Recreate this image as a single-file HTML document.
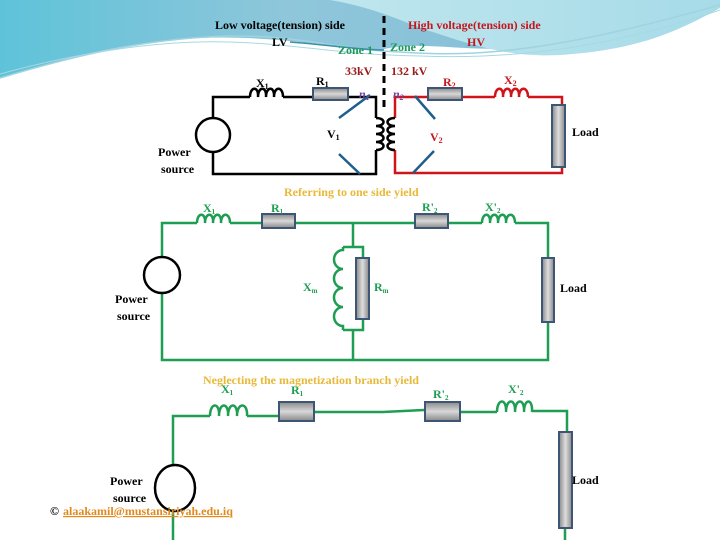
<!DOCTYPE html>
<html><head><meta charset="utf-8"><style>
html,body{margin:0;padding:0;background:#fff;}
svg{display:block;}
text{font-family:"Liberation Serif",serif;font-weight:bold;font-size:12px;}
</style></head><body>
<svg width="720" height="540" viewBox="0 0 720 540" xmlns="http://www.w3.org/2000/svg">
<defs>
<linearGradient id="bg1" x1="0" y1="0" x2="1" y2="0">
<stop offset="0" stop-color="#5ec3d9"/><stop offset="0.4" stop-color="#8fc6da"/><stop offset="1" stop-color="#7fbcd6"/></linearGradient>
<linearGradient id="bg2" x1="0" y1="0" x2="1" y2="0">
<stop offset="0" stop-color="#bfe6ee"/><stop offset="1" stop-color="#a6dbe8"/></linearGradient>
<linearGradient id="rh" x1="0" y1="0" x2="0" y2="1">
<stop offset="0" stop-color="#888"/><stop offset="0.5" stop-color="#d8d8d8"/><stop offset="1" stop-color="#888"/></linearGradient>
<linearGradient id="rv" x1="0" y1="0" x2="1" y2="0">
<stop offset="0" stop-color="#888"/><stop offset="0.5" stop-color="#ddd"/><stop offset="1" stop-color="#888"/></linearGradient>
</defs>
<path d="M0 0 H720 V0 C660 20 600 45 520 48 C460 52 420 40 380 50 C320 45 260 35 200 38 C120 42 60 60 0 78 Z" fill="url(#bg1)"/>
<path d="M330 0 H720 V8 C680 30 640 50 560 55 C500 58 460 40 420 28 C390 15 360 5 330 0 Z" fill="url(#bg2)"/>
<path d="M0 78 C60 60 140 38 230 36 C300 35 340 50 400 52 C480 58 560 50 720 5" fill="none" stroke="#9fd3e0" stroke-width="1.5"/>
<path d="M0 74 C80 52 160 40 230 42 C300 44 340 55 420 56 C520 60 620 45 720 10" fill="none" stroke="#a7d8e3" stroke-width="1"/>
<path d="M290 42 C330 45 360 50 384 50" fill="none" stroke="#3a8fa8" stroke-width="1.5"/>

<line x1="384" y1="16" x2="384" y2="110" stroke="#000" stroke-width="3" stroke-dasharray="7,5"/>

<text x="215" y="29">Low voltage(tension)  side</text>
<text x="272" y="46">LV</text>
<text x="338" y="54" fill="#1c9a5a">Zone 1</text>
<text x="390" y="51" fill="#1c9a5a">Zone 2</text>
<text x="408" y="29" fill="#c4161c">High voltage(tension)  side</text>
<text x="467" y="46" fill="#c4161c">HV</text>
<text x="345" y="75" fill="#9b1b1b">33kV</text>
<text x="391" y="75" fill="#9b1b1b">132 kV</text>

<g fill="none" stroke="#000" stroke-width="2.5">
<path d="M213 118 V97 H250"/>
<path d="M250 97 c0 -11 9 -11 8 0 c0 -11 9 -11 8 0 c0 -11 9 -11 8 0 c0 -11 9 -11 9 0"/>
<path d="M283 97 H313 M348 97 H376 V118"/>
<path d="M376 118 c10 0 10 8 0 8 c10 0 10 8 0 8 c10 0 10 8 0 8 c10 0 10 8 0 8"/>
<path d="M376 150 V174 H213 V152"/>
<circle cx="213" cy="135" r="17"/>
</g>
<rect x="313" y="88" width="35" height="12" fill="url(#rh)" stroke="#3d5675" stroke-width="2"/>
<g fill="none" stroke="#d0141a" stroke-width="2.5">
<path d="M395 118 V97 H428 M462 97 H495"/>
<path d="M495 97 c0 -11 9 -11 8 0 c0 -11 9 -11 8 0 c0 -11 9 -11 8 0 c0 -11 9 -11 9 0"/>
<path d="M528 97 H562 V105 M562 166 V173 H395 V150"/>
</g>
<path d="M395 118 c-10 0 -10 8 0 8 c-10 0 -10 8 0 8 c-10 0 -10 8 0 8 c-10 0 -10 8 0 8" fill="none" stroke="#000" stroke-width="2.5"/>
<rect x="428" y="88" width="34" height="12" fill="url(#rh)" stroke="#3d5675" stroke-width="2"/>
<rect x="552" y="105" width="13" height="62" fill="url(#rv)" stroke="#3d5675" stroke-width="2"/>
<g stroke="#1f5f8b" stroke-width="2.5">
<line x1="339" y1="118" x2="370" y2="95"/><line x1="339" y1="154" x2="360" y2="174"/>
<line x1="435" y1="119" x2="415" y2="96"/><line x1="434" y1="151" x2="413" y2="173"/>
</g>
<text x="256" y="87">X<tspan font-size="8" dy="2">1</tspan></text>
<text x="316" y="85">R<tspan font-size="8" dy="2">1</tspan></text>
<text x="359" y="98" fill="#6b3fa0" font-style="italic">n<tspan font-size="8" dy="2">1</tspan></text>
<text x="393" y="98" fill="#6b3fa0" font-style="italic">n<tspan font-size="8" dy="2">2</tspan></text>
<text x="443" y="86" fill="#c4161c">R<tspan font-size="8" dy="2">2</tspan></text>
<text x="504" y="84" fill="#c4161c">X<tspan font-size="8" dy="2">2</tspan></text>
<text x="327" y="138">V<tspan font-size="8" dy="2">1</tspan></text>
<text x="430" y="141" fill="#c4161c">V<tspan font-size="8" dy="2">2</tspan></text>
<text x="572" y="136">Load</text>
<text x="158" y="156">Power</text>
<text x="161" y="173">source</text>

<text x="284" y="196" fill="#e8b939" font-size="14">Referring to one side yield</text>
<g fill="none" stroke="#1e9e52" stroke-width="2.5">
<path d="M162 257 V223 H197"/>
<path d="M197 223 c0 -11 9 -11 8 0 c0 -11 9 -11 8 0 c0 -11 9 -11 8 0 c0 -11 9 -11 9 0"/>
<path d="M230 223 H262 M295 223 H415 M448 223 H482"/>
<path d="M482 223 c0 -11 9 -11 8 0 c0 -11 9 -11 8 0 c0 -11 9 -11 8 0 c0 -11 9 -11 9 0"/>
<path d="M515 223 H548 V258 M548 322 V360 H162 V293"/>
<path d="M353 223 V247 M343 247 H363 V258 M363 319 V330 H343 M353 330 V360"/>
<path d="M343 247 V250 a9 9.5 0 0 0 0 19 a9 9.5 0 0 0 0 19 a9 9.5 0 0 0 0 19 a9 9.5 0 0 0 0 19 V330"/>
</g>
<circle cx="162" cy="275" r="18" fill="none" stroke="#000" stroke-width="2.5"/>
<rect x="262" y="214" width="33" height="14" fill="url(#rh)" stroke="#3d5675" stroke-width="2"/>
<rect x="415" y="214" width="33" height="14" fill="url(#rh)" stroke="#3d5675" stroke-width="2"/>
<rect x="356" y="258" width="13" height="61" fill="url(#rv)" stroke="#3d5675" stroke-width="2"/>
<rect x="542" y="258" width="12" height="64" fill="url(#rv)" stroke="#3d5675" stroke-width="2"/>
<g fill="#1e9e52">
<text x="203" y="212">X<tspan font-size="7" dy="2">1</tspan></text>
<text x="271" y="212">R<tspan font-size="7" dy="2">1</tspan></text>
<text x="422" y="211">R'<tspan font-size="7" dy="2">2</tspan></text>
<text x="485" y="211">X'<tspan font-size="7" dy="2">2</tspan></text>
<text x="303" y="291">X<tspan font-size="7" dy="2">m</tspan></text>
<text x="374" y="291">R<tspan font-size="7" dy="2">m</tspan></text>
</g>
<text x="560" y="292">Load</text>
<text x="115" y="303">Power</text>
<text x="117" y="320">source</text>

<text x="203" y="384" fill="#e8b939" font-size="14">Neglecting the magnetization branch yield</text>
<g fill="none" stroke="#1e9e52" stroke-width="2.5">
<path d="M173 466 V416 H210"/>
<path d="M210 416 c0 -14 10 -14 9 0 c0 -14 10 -14 9 0 c0 -14 10 -14 9 0 c0 -14 11 -14 10 0"/>
<path d="M247 416 H279 M314 412 H383 L424 410 M460 412 H497"/>
<path d="M497 412 c0 -14 10 -14 9 0 c0 -14 10 -14 9 0 c0 -14 10 -14 9 0 c0 -14 9 -14 8 0"/>
<path d="M532 411 H567 V432 M565 528 V540 M173 509 V540"/>
</g>
<ellipse cx="175" cy="488" rx="20" ry="23" fill="none" stroke="#000" stroke-width="2.5"/>
<rect x="279" y="402" width="35" height="19" fill="url(#rh)" stroke="#3d5675" stroke-width="2"/>
<rect x="425" y="402" width="35" height="19" fill="url(#rh)" stroke="#3d5675" stroke-width="2"/>
<rect x="559" y="432" width="13" height="96" fill="url(#rv)" stroke="#3d5675" stroke-width="2"/>
<g fill="#1e9e52">
<text x="221" y="393">X<tspan font-size="7" dy="2">1</tspan></text>
<text x="291" y="394">R<tspan font-size="7" dy="2">1</tspan></text>
<text x="433" y="398">R'<tspan font-size="7" dy="2">2</tspan></text>
<text x="508" y="393">X'<tspan font-size="7" dy="2">2</tspan></text>
</g>
<text x="572" y="484">Load</text>
<text x="110" y="485">Power</text>
<text x="113" y="502">source</text>
<text x="50" y="515" font-size="8" font-weight="normal">©</text>
<text x="63" y="515" font-size="7" font-weight="normal" fill="#e08a1e" text-decoration="underline">alaakamil@mustansiriyah.edu.iq</text>
</svg>
</body></html>
